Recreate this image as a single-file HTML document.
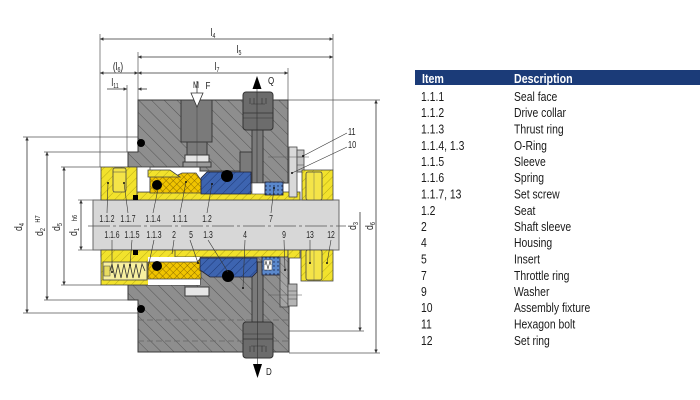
<!DOCTYPE html>
<html><head><meta charset="utf-8"><style>
html,body{margin:0;padding:0;background:#fff;}
svg{display:block;}
text{font-family:"Liberation Sans",sans-serif;}
</style></head><body>
<svg width="700" height="400" viewBox="0 0 700 400" xmlns="http://www.w3.org/2000/svg">
<defs>
<pattern id="hg" width="9" height="9" patternUnits="userSpaceOnUse" patternTransform="rotate(-45)">
<rect width="9" height="9" fill="#8e8e8e"/><line x1="0" y1="0" x2="0" y2="9" stroke="#555" stroke-width="1"/></pattern>
<pattern id="hw" width="6" height="6" patternUnits="userSpaceOnUse" patternTransform="rotate(-45)">
<rect width="6" height="6" fill="#a4a4a4"/><line x1="0" y1="0" x2="0" y2="6" stroke="#555" stroke-width="0.8"/></pattern>
<pattern id="hy" width="6" height="6" patternUnits="userSpaceOnUse" patternTransform="rotate(45)">
<rect width="6" height="6" fill="#f2e22c"/><line x1="0" y1="0" x2="0" y2="6" stroke="#a89a10" stroke-width="0.8"/></pattern>
<pattern id="hx" width="5" height="5" patternUnits="userSpaceOnUse" patternTransform="rotate(45)">
<rect width="5" height="5" fill="#f0c400"/><line x1="0" y1="0" x2="0" y2="5" stroke="#7a5c00" stroke-width="0.8"/><line x1="0" y1="0" x2="5" y2="0" stroke="#7a5c00" stroke-width="0.8"/></pattern>
<pattern id="hb" width="6" height="6" patternUnits="userSpaceOnUse" patternTransform="rotate(45)">
<rect width="6" height="6" fill="#3d64b0"/><line x1="0" y1="0" x2="0" y2="6" stroke="#1f3a78" stroke-width="1"/></pattern>
<pattern id="hd" width="4" height="4" patternUnits="userSpaceOnUse">
<rect width="4" height="4" fill="#5a88cc"/><circle cx="2" cy="2" r="0.7" fill="#16244a"/></pattern>
<marker id="ar" viewBox="0 0 10 10" refX="10" refY="5" markerUnits="userSpaceOnUse" markerWidth="7" markerHeight="3.5" orient="auto-start-reverse">
<path d="M0,0 L10,5 L0,10 z" fill="#333"/></marker>
</defs>

<!-- ============ TABLE ============ -->
<rect x="415" y="70" width="285" height="15" fill="#1b3b78"/>
<g font-size="13" fill="#fff" font-weight="bold">
<text transform="translate(422,83) scale(0.82,1)">Item</text>
<text transform="translate(514,83) scale(0.82,1)">Description</text>
</g>
<g font-size="13" fill="#1a1a1a">
<text transform="translate(421,101) scale(0.8,1)">1.1.1</text><text transform="translate(514,101) scale(0.8,1)">Seal face</text>
<text transform="translate(421,117) scale(0.8,1)">1.1.2</text><text transform="translate(514,117) scale(0.8,1)">Drive collar</text>
<text transform="translate(421,133.5) scale(0.8,1)">1.1.3</text><text transform="translate(514,133.5) scale(0.8,1)">Thrust ring</text>
<text transform="translate(421,150) scale(0.8,1)">1.1.4, 1.3</text><text transform="translate(514,150) scale(0.8,1)">O-Ring</text>
<text transform="translate(421,166) scale(0.8,1)">1.1.5</text><text transform="translate(514,166) scale(0.8,1)">Sleeve</text>
<text transform="translate(421,182) scale(0.8,1)">1.1.6</text><text transform="translate(514,182) scale(0.8,1)">Spring</text>
<text transform="translate(421,198.5) scale(0.8,1)">1.1.7, 13</text><text transform="translate(514,198.5) scale(0.8,1)">Set screw</text>
<text transform="translate(421,215) scale(0.8,1)">1.2</text><text transform="translate(514,215) scale(0.8,1)">Seat</text>
<text transform="translate(421,231) scale(0.8,1)">2</text><text transform="translate(514,231) scale(0.8,1)">Shaft sleeve</text>
<text transform="translate(421,247) scale(0.8,1)">4</text><text transform="translate(514,247) scale(0.8,1)">Housing</text>
<text transform="translate(421,263.5) scale(0.8,1)">5</text><text transform="translate(514,263.5) scale(0.8,1)">Insert</text>
<text transform="translate(421,280) scale(0.8,1)">7</text><text transform="translate(514,280) scale(0.8,1)">Throttle ring</text>
<text transform="translate(421,296) scale(0.8,1)">9</text><text transform="translate(514,296) scale(0.8,1)">Washer</text>
<text transform="translate(421,312) scale(0.8,1)">10</text><text transform="translate(514,312) scale(0.8,1)">Assembly fixture</text>
<text transform="translate(421,328.5) scale(0.8,1)">11</text><text transform="translate(514,328.5) scale(0.8,1)">Hexagon bolt</text>
<text transform="translate(421,345) scale(0.8,1)">12</text><text transform="translate(514,345) scale(0.8,1)">Set ring</text>
</g>

<!-- ============ DIMENSION / EXTENSION LINES ============ -->
<g stroke="#555" stroke-width="0.7" fill="none">
<line x1="100" y1="34" x2="100" y2="167"/>
<line x1="333" y1="34" x2="333" y2="170"/>
<line x1="138" y1="52" x2="138" y2="100"/>
<line x1="288" y1="68" x2="288" y2="100"/>
<line x1="127" y1="85" x2="127" y2="152"/>
<line x1="288" y1="100" x2="380" y2="100"/>
<line x1="23" y1="137" x2="138" y2="137"/>
<line x1="44" y1="152" x2="128" y2="152"/>
<line x1="61" y1="167" x2="101" y2="167"/>
<line x1="78" y1="200" x2="93" y2="200"/>
<line x1="78" y1="250" x2="93" y2="250"/>
<line x1="61" y1="285" x2="101" y2="285"/>
<line x1="44" y1="300" x2="128" y2="300"/>
<line x1="23" y1="313" x2="138" y2="313"/>
<line x1="289" y1="331" x2="364" y2="331"/>
<line x1="289" y1="353" x2="380" y2="353"/>
</g>
<g stroke="#333" stroke-width="0.8" fill="none">
<line x1="100" y1="39" x2="333" y2="39" marker-start="url(#ar)" marker-end="url(#ar)"/>
<line x1="138" y1="57" x2="333" y2="57" marker-start="url(#ar)" marker-end="url(#ar)"/>
<line x1="138" y1="73" x2="288" y2="73" marker-start="url(#ar)" marker-end="url(#ar)"/>
<line x1="100" y1="73" x2="138" y2="73" marker-start="url(#ar)" marker-end="url(#ar)"/>
<line x1="107" y1="89" x2="127" y2="89" marker-end="url(#ar)"/>
<line x1="147" y1="89" x2="138" y2="89" marker-end="url(#ar)"/>
<line x1="27" y1="137" x2="27" y2="313" marker-start="url(#ar)" marker-end="url(#ar)"/>
<line x1="47" y1="152" x2="47" y2="300" marker-start="url(#ar)" marker-end="url(#ar)"/>
<line x1="64" y1="167" x2="64" y2="285" marker-start="url(#ar)" marker-end="url(#ar)"/>
<line x1="81" y1="200" x2="81" y2="250" marker-start="url(#ar)" marker-end="url(#ar)"/>
<line x1="360" y1="212" x2="360" y2="331" marker-end="url(#ar)"/>
<line x1="376" y1="100" x2="376" y2="353" marker-start="url(#ar)" marker-end="url(#ar)"/>
</g>
<g font-size="11" fill="#222" text-anchor="middle">
<text transform="translate(213,36) scale(0.75,1)">l<tspan font-size="7" dy="2">4</tspan></text>
<text transform="translate(239,53) scale(0.75,1)">l<tspan font-size="7" dy="2">5</tspan></text>
<text transform="translate(217,70) scale(0.75,1)">l<tspan font-size="7" dy="2">7</tspan></text>
<text transform="translate(118,70) scale(0.75,1)">(l<tspan font-size="7" dy="2">6</tspan><tspan dy="-2">)</tspan></text>
<text transform="translate(115,86) scale(0.75,1)">l<tspan font-size="7" dy="2">11</tspan></text>
<text transform="translate(22,227) rotate(-90) scale(0.8,1)">d<tspan font-size="7" dy="2">4</tspan></text>
<text transform="translate(43,232) rotate(-90) scale(0.8,1)">d<tspan font-size="7" dy="2">2</tspan></text>
<text transform="translate(40,219) rotate(-90) scale(0.8,1)" font-size="7">H7</text>
<text transform="translate(60,227) rotate(-90) scale(0.8,1)">d<tspan font-size="7" dy="2">5</tspan></text>
<text transform="translate(77,232) rotate(-90) scale(0.8,1)">d<tspan font-size="7" dy="2">1</tspan></text>
<text transform="translate(77,218) rotate(-90) scale(0.8,1)" font-size="7">h6</text>
<text transform="translate(356,226) rotate(-90) scale(0.8,1)">d<tspan font-size="7" dy="2">3</tspan></text>
<text transform="translate(373,226) rotate(-90) scale(0.8,1)">d<tspan font-size="7" dy="2">6</tspan></text>
</g>

<!-- ============ HOUSING ============ -->
<path d="M138,100 H288 V183 H246 V171 H200 V167 H128 V152 H138 Z" fill="url(#hg)" stroke="#3a3a3a" stroke-width="1"/>
<path d="M138,352 H289 V256 H200 V285 H128 V300 H138 Z" fill="url(#hg)" stroke="#3a3a3a" stroke-width="1"/>
<g stroke="#666" stroke-width="0.7" stroke-dasharray="6 3">
<line x1="138" y1="320" x2="289" y2="320"/>
<line x1="138" y1="341" x2="289" y2="341"/>
</g>
<circle cx="141" cy="143" r="4" fill="#000"/>
<circle cx="141" cy="309" r="4" fill="#000"/>

<!-- M bore -->
<rect x="181" y="100" width="31" height="42" fill="#7a7a7a" stroke="#3a3a3a"/>
<rect x="187" y="142" width="20" height="13" fill="#7a7a7a" stroke="#3a3a3a"/>
<rect x="185" y="155" width="24" height="7" fill="#e6e6e6" stroke="#3a3a3a"/>
<rect x="183" y="162" width="28" height="5" fill="#9a9a9a" stroke="#3a3a3a"/>
<line x1="197" y1="100" x2="197" y2="167" stroke="#444" stroke-width="0.5"/>
<rect x="185" y="287" width="24" height="9" fill="#e6e6e6" stroke="#3a3a3a"/>

<!-- Q bore -->
<rect x="252" y="125" width="11" height="58" fill="#7a7a7a" stroke="#3a3a3a"/>
<rect x="240" y="152" width="12" height="31" fill="#7a7a7a" stroke="#3a3a3a"/>
<rect x="243" y="92" width="30" height="38" rx="3" fill="#6c6c6c" stroke="#333"/>
<line x1="243" y1="113" x2="273" y2="113" stroke="#333" stroke-width="0.7"/>
<line x1="243" y1="118" x2="273" y2="118" stroke="#333" stroke-width="0.5"/>
<path d="M250,98 v6 M254,98 v6 M262,98 v6 M266,98 v6 M251,104 h14" stroke="#333" stroke-width="0.6" fill="none"/>
<line x1="257" y1="86" x2="257" y2="183" stroke="#333" stroke-width="0.6"/>
<path d="M257,76 L252.5,89 L261.5,89 Z" fill="#000"/>
<text x="268" y="84" font-size="10" fill="#222" transform="translate(268,84) scale(0.8,1) translate(-268,-84)">Q</text>

<!-- M arrow -->
<line x1="197" y1="81" x2="197" y2="93" stroke="#333" stroke-width="0.8"/>
<path d="M191,93 L203,93 L197,107 Z" fill="#fff" stroke="#333" stroke-width="0.8"/>
<text font-size="9" fill="#222" text-anchor="middle" transform="translate(196,88) scale(0.8,1)">M</text>
<text font-size="10" fill="#222" text-anchor="middle" transform="translate(208,89) scale(0.8,1)">F</text>

<!-- D bore -->
<rect x="252" y="262" width="11" height="62" fill="#7a7a7a" stroke="#3a3a3a"/>
<rect x="243" y="322" width="30" height="36" rx="3" fill="#6c6c6c" stroke="#333"/>
<line x1="243" y1="339" x2="273" y2="339" stroke="#333" stroke-width="0.7"/>
<line x1="243" y1="334" x2="273" y2="334" stroke="#333" stroke-width="0.5"/>
<path d="M250,346 v6 M254,346 v6 M262,346 v6 M266,346 v6 M251,346 h14" stroke="#333" stroke-width="0.6" fill="none"/>
<line x1="257.5" y1="262" x2="257.5" y2="364" stroke="#333" stroke-width="0.6"/>
<path d="M253,364 L262,364 L257.5,378 Z" fill="#000"/>
<text font-size="10" fill="#222" transform="translate(266,375) scale(0.8,1)">D</text>

<!-- ============ SHAFT ============ -->
<rect x="93" y="200" width="246" height="50" fill="#d7d7d7" stroke="#6a6a6a"/>

<!-- ============ TOP PARTS ============ -->
<rect x="101" y="192" width="199" height="8" fill="url(#hy)" stroke="#444" stroke-width="0.8"/>
<rect x="101" y="167" width="36" height="33" fill="url(#hy)" stroke="#444" stroke-width="0.8"/>
<rect x="113" y="168" width="13" height="24" rx="2" fill="#f4e448" stroke="#444" stroke-width="0.8"/>
<line x1="113" y1="172" x2="126" y2="172" stroke="#444" stroke-width="0.5"/>
<rect x="137" y="167" width="13" height="25" fill="#fff" stroke="#444" stroke-width="0.8"/>
<rect x="133" y="195" width="5" height="5" fill="#000"/>
<path d="M150,176 H176 L182,173 H196 L201,180 V193 H150 Z" fill="url(#hx)" stroke="#444" stroke-width="0.8"/>
<path d="M148,170 H170 L180,177 H148 Z" fill="url(#hy)" stroke="#444" stroke-width="0.8"/>
<circle cx="157" cy="185" r="5" fill="#000"/>
<path d="M201,178 L207,172 H251 V194 H201 Z" fill="url(#hb)" stroke="#223" stroke-width="0.8"/>
<circle cx="227" cy="176" r="6" fill="#000"/>
<rect x="252" y="183" width="13" height="11" fill="#fff" stroke="#444" stroke-width="0.6"/>
<rect x="265" y="182" width="18" height="13" fill="url(#hd)" stroke="#223" stroke-width="0.8"/>
<rect x="289" y="147" width="8" height="50" fill="#d9d9d9" stroke="#444" stroke-width="0.8"/>
<rect x="297" y="150" width="7" height="22" fill="#c4c4c4" stroke="#444" stroke-width="0.8"/>
<line x1="297" y1="157" x2="304" y2="157" stroke="#444" stroke-width="0.5"/>
<line x1="297" y1="165" x2="304" y2="165" stroke="#444" stroke-width="0.5"/>
<line x1="268" y1="157" x2="309" y2="157" stroke="#555" stroke-width="0.5"/>
<rect x="302" y="170" width="31" height="30" fill="url(#hy)" stroke="#444" stroke-width="0.8"/>
<rect x="306" y="172" width="16" height="28" rx="2" fill="#f4e448" stroke="#444" stroke-width="0.8"/>
<line x1="314" y1="172" x2="314" y2="200" stroke="#555" stroke-width="0.4"/>

<!-- ============ BOTTOM PARTS ============ -->
<rect x="101" y="250" width="187" height="7" fill="url(#hy)" stroke="#444" stroke-width="0.8"/>
<path d="M288,250 H300 V258 H288 Z" fill="url(#hy)" stroke="#444" stroke-width="0.8"/>
<rect x="101" y="250" width="74" height="35" fill="url(#hy)" stroke="#444" stroke-width="0.8"/>
<rect x="133" y="250" width="5" height="5" fill="#000"/>
<rect x="103" y="262" width="44" height="18" fill="#f8f0a0" stroke="#444" stroke-width="0.8"/>
<rect x="104" y="266" width="6" height="10" fill="#e8dc60" stroke="#444" stroke-width="0.5"/>
<polyline points="110,271 112,264 115,278 118,264 121,278 124,264 127,278 130,264 133,278 136,264 139,278 142,264 145,271" fill="none" stroke="#333" stroke-width="0.8"/>
<rect x="148" y="257" width="52" height="28" fill="#fff"/>
<path d="M148,262 H197 L201,258 V279 H148 Z" fill="url(#hx)" stroke="#444" stroke-width="0.8"/>
<circle cx="157" cy="266" r="5" fill="#000"/>
<path d="M200,258 H257 V272 L252,277 H210 L200,270 Z" fill="url(#hb)" stroke="#223" stroke-width="0.8"/>
<circle cx="228" cy="276" r="6" fill="#000"/>
<rect x="262" y="257" width="18" height="18" fill="url(#hd)" stroke="#223" stroke-width="0.8"/>
<rect x="264" y="260" width="8" height="10" fill="#fff" stroke="#333" stroke-width="0.5"/>
<polyline points="265,265 266,261 268,269 270,261 271,265" fill="none" stroke="#333" stroke-width="0.6"/>
<rect x="280" y="257" width="8" height="50" fill="url(#hw)" stroke="#444" stroke-width="0.8"/>
<rect x="288" y="284" width="9" height="22" fill="#b4b4b4" stroke="#444" stroke-width="0.8"/>
<line x1="288" y1="291" x2="297" y2="291" stroke="#444" stroke-width="0.5"/>
<line x1="288" y1="299" x2="297" y2="299" stroke="#444" stroke-width="0.5"/>
<line x1="268" y1="295" x2="302" y2="295" stroke="#555" stroke-width="0.5"/>
<rect x="301" y="250" width="32" height="31" fill="url(#hy)" stroke="#444" stroke-width="0.8"/>
<rect x="306" y="250" width="16" height="30" rx="2" fill="#f4e448" stroke="#444" stroke-width="0.8"/>
<line x1="314" y1="250" x2="314" y2="280" stroke="#555" stroke-width="0.4"/>

<!-- centerline -->
<line x1="88" y1="226" x2="346" y2="226" stroke="#555" stroke-width="0.7" stroke-dasharray="22 3 3 3"/>

<!-- leaders -->
<g stroke="#333" stroke-width="0.6" fill="none">
<line x1="107" y1="213" x2="108" y2="183"/>
<line x1="128" y1="213" x2="124" y2="183"/>
<line x1="153" y1="213" x2="158" y2="189"/>
<line x1="180" y1="213" x2="186" y2="182"/>
<line x1="207" y1="213" x2="212" y2="184"/>
<line x1="271" y1="213" x2="274" y2="188"/>
<line x1="112" y1="240" x2="112" y2="272"/>
<line x1="132" y1="240" x2="130" y2="265"/>
<line x1="154" y1="240" x2="148" y2="268"/>
<line x1="174" y1="240" x2="172" y2="254"/>
<line x1="190" y1="240" x2="198" y2="263"/>
<line x1="208" y1="240" x2="228" y2="272"/>
<line x1="245" y1="240" x2="243" y2="288"/>
<line x1="284" y1="240" x2="285" y2="270"/>
<line x1="310" y1="240" x2="310" y2="263"/>
<line x1="331" y1="240" x2="327" y2="263"/>
<line x1="347" y1="133" x2="303" y2="156"/>
<line x1="347" y1="147" x2="292" y2="173"/>
</g>
<g fill="#111">
<circle cx="108" cy="183" r="1"/><circle cx="124" cy="183" r="1"/><circle cx="186" cy="182" r="1"/>
<circle cx="212" cy="184" r="1"/><circle cx="274" cy="188" r="1"/><circle cx="112" cy="272" r="1"/>
<circle cx="130" cy="265" r="1"/><circle cx="198" cy="263" r="1"/><circle cx="243" cy="288" r="1"/>
<circle cx="285" cy="270" r="1"/><circle cx="310" cy="263" r="1"/><circle cx="327" cy="263" r="1"/>
<circle cx="292" cy="173" r="1"/><circle cx="303" cy="156" r="1"/>
</g>

<!-- shaft labels -->
<g font-size="10.5" fill="#222" text-anchor="middle">
<text transform="translate(107,222) scale(0.65,1)">1.1.2</text>
<text transform="translate(128,222) scale(0.65,1)">1.1.7</text>
<text transform="translate(153,222) scale(0.65,1)">1.1.4</text>
<text transform="translate(180,222) scale(0.65,1)">1.1.1</text>
<text transform="translate(207,222) scale(0.65,1)">1.2</text>
<text transform="translate(271,222) scale(0.65,1)">7</text>
<text transform="translate(112,238) scale(0.65,1)">1.1.6</text>
<text transform="translate(132,238) scale(0.65,1)">1.1.5</text>
<text transform="translate(154,238) scale(0.65,1)">1.1.3</text>
<text transform="translate(174,238) scale(0.65,1)">2</text>
<text transform="translate(191,238) scale(0.65,1)">5</text>
<text transform="translate(208,238) scale(0.65,1)">1.3</text>
<text transform="translate(245,238) scale(0.65,1)">4</text>
<text transform="translate(284,238) scale(0.65,1)">9</text>
<text transform="translate(310,238) scale(0.65,1)">13</text>
<text transform="translate(331,238) scale(0.65,1)">12</text>
</g>
<g font-size="10.5" fill="#222">
<text transform="translate(348,135) scale(0.7,1)">11</text>
<text transform="translate(348,148) scale(0.7,1)">10</text>
</g>
</svg>
</body></html>
